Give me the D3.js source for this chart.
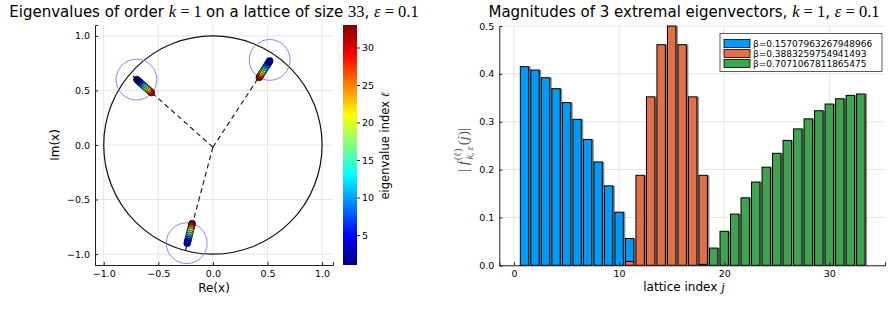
<!DOCTYPE html>
<html><head><meta charset="utf-8">
<script src="https://cdn.jsdelivr.net/npm/d3@7"></script>
<style>
body{margin:0;background:#fff;}
svg text{font-family:"DejaVu Sans",sans-serif;fill:#000;}
.m{font-family:"Liberation Serif","DejaVu Serif",serif;}
</style></head><body>
<svg id="c" width="896" height="325"></svg>
<script>
// ---------- data ----------
const eigRe = [-0.696,-0.683,-0.670,-0.657,-0.644,-0.631,-0.618,-0.604,-0.591,-0.578,-0.564,
                0.520,0.511,0.501,0.492,0.482,0.473,0.463,0.454,0.444,0.435,0.425,
               -0.235,-0.231,-0.226,-0.222,-0.217,-0.213,-0.208,-0.204,-0.199,-0.195,-0.190];
const eigIm = [0.600,0.588,0.576,0.564,0.553,0.541,0.530,0.518,0.506,0.494,0.481,
               0.770,0.755,0.740,0.725,0.710,0.695,0.680,0.665,0.650,0.635,0.620,
              -0.900,-0.882,-0.864,-0.846,-0.828,-0.810,-0.792,-0.774,-0.756,-0.738,-0.720];
const eigIdx = [1,4,7,10,13,16,19,22,25,28,31,
                2,5,8,11,14,17,20,23,26,29,32,
                3,6,9,12,15,18,21,24,27,30,33];
const rayEndRe = [-0.757,0.558,-0.252];
const rayEndIm = [0.655,0.830,-0.968];
const rayStart = [0.0,-0.02];
const clusterCenterRe = [-0.70,0.52,-0.24];
const clusterCenterIm = [0.60,0.78,-0.90];
const clusterRadius = 0.187;

const lattice = d3.range(1,34);
const betas = ["β=0.15707963267948966","β=0.3883259754941493","β=0.7071067811865475"];
const mag1 = [0.415,0.408,0.392,0.369,0.340,0.305,0.263,0.216,0.166,0.111,0.056,
              0,0,0,0,0,0,0,0,0,0,0,0,0,0,0,0,0,0,0,0,0,0];
const mag2 = [0,0,0,0,0,0,0,0,0,0,0.008,0.188,0.352,0.461,0.500,0.461,0.352,0.188,
              0,0,0,0,0,0,0,0,0,0,0,0,0,0,0];
const mag3 = [0,0,0,0,0,0,0,0,0,0,0,0,0,0,0,0,0,0.002,
              0.036,0.071,0.107,0.141,0.174,0.205,0.234,0.261,0.285,0.306,0.323,0.337,0.348,0.355,0.358];
const seriesColors = ["#009AFA","#E36F47","#3EA44E"];

const leftTicks = [-1.0,-0.5,0.0,0.5,1.0];
const cbTicks = [5,10,15,20,25,30];
const rightXTicks = [0,10,20,30];
const rightYTicks = [0,0.1,0.2,0.3,0.4,0.5];

// ---------- drawing ----------
const svg = d3.select("#c");
const fmt1 = d => (d<0?"\u2212":"") + Math.abs(d).toFixed(1);
const gridC = "#e5e5e5", axC = "#222";

const jet = d3.scaleLinear().domain([0,0.125,0.375,0.625,0.875,1])
  .range(["#00007F","#0000FF","#00FFFF","#FFFF00","#FF0000","#7F0000"]).clamp(true);
const cnorm = d3.scaleLinear().domain([1,33]).range([0,1]);

// LEFT PANEL
const xL = d3.scaleLinear().domain([-1.08,1.10]).range([95,333]);
const yL = d3.scaleLinear().domain([-1.1,1.1]).range([265,25]);
const gL = svg.append("g");
leftTicks.forEach(t=>{
  gL.append("line").attr("x1",xL(t)).attr("x2",xL(t)).attr("y1",25).attr("y2",265).attr("stroke",gridC);
  gL.append("line").attr("y1",yL(t)).attr("y2",yL(t)).attr("x1",95).attr("x2",333).attr("stroke",gridC);
});
const axL = d3.axisLeft(yL).tickValues(leftTicks).tickFormat(fmt1).tickSize(-3).tickPadding(5);
const axB = d3.axisBottom(xL).tickValues(leftTicks).tickFormat(fmt1).tickSize(-3).tickPadding(5);
[gL.append("g").attr("transform","translate(95,0)").call(axL),
 gL.append("g").attr("transform","translate(0,265)").call(axB)].forEach(a=>{
  a.select(".domain").attr("stroke",axC).attr("stroke-width",1);
  a.selectAll(".tick line").attr("stroke",axC);
  a.selectAll("text").attr("font-size",9.5).attr("fill","#222").attr("font-family","DejaVu Sans");
});
gL.append("circle").attr("cx",xL(0)).attr("cy",yL(0)).attr("r",xL(1)-xL(0))
  .attr("fill","none").attr("stroke","#111").attr("stroke-width",1.2);
rayEndRe.forEach((r,i)=>{
  gL.append("line").attr("x1",xL(rayStart[0])).attr("y1",yL(rayStart[1]))
    .attr("x2",xL(r)).attr("y2",yL(rayEndIm[i]))
    .attr("stroke","#111").attr("stroke-width",1.1).attr("stroke-dasharray","5,3.5");
});
clusterCenterRe.forEach((c,i)=>{
  gL.append("circle").attr("cx",xL(c)).attr("cy",yL(clusterCenterIm[i]))
    .attr("r",xL(clusterRadius)-xL(0)).attr("fill","none").attr("stroke","#8585ff").attr("stroke-width",1);
});
d3.range(eigRe.length).sort((a,b)=>eigIdx[b]-eigIdx[a]).forEach(i=>{
  gL.append("circle").attr("cx",xL(eigRe[i])).attr("cy",yL(eigIm[i])).attr("r",3.4)
    .attr("fill",jet(cnorm(eigIdx[i]))).attr("stroke","#000").attr("stroke-width",0.7);
});
// colorbar
const yC = d3.scaleLinear().domain([1,33]).range([265,25]);
const defs = svg.append("defs");
const lg = defs.append("linearGradient").attr("id","jetg").attr("x1",0).attr("y1",1).attr("x2",0).attr("y2",0);
d3.range(0,1.0001,0.0625).forEach(s=>lg.append("stop").attr("offset",s).attr("stop-color",jet(s)));
svg.append("rect").attr("x",343).attr("y",25).attr("width",14).attr("height",240).attr("fill","url(#jetg)");
const axC2 = d3.axisRight(yC).tickValues(cbTicks).tickSize(3).tickPadding(2);
const gc = svg.append("g").attr("transform","translate(357,0)").call(axC2);
gc.select(".domain").remove();
gc.selectAll(".tick line").attr("stroke","#222");
gc.selectAll("text").attr("font-size",9.5).attr("fill","#222");
const cbl = svg.append("text").attr("transform","translate(389,146) rotate(-90)").attr("text-anchor","middle").attr("font-size",11.5);
cbl.append("tspan").text("eigenvalue index ");
cbl.append("tspan").attr("class","m").attr("font-style","italic").text("ℓ");
svg.append("text").attr("x",214).attr("y",292).attr("text-anchor","middle").attr("font-size",12).text("Re(x)");
svg.append("text").attr("transform","translate(59,145) rotate(-90)").attr("text-anchor","middle").attr("font-size",12).text("Im(x)");
const tL = svg.append("text").attr("x",214).attr("y",17).attr("text-anchor","middle").attr("font-size",15);
tL.append("tspan").text("Eigenvalues of order ");
tL.append("tspan").attr("class","m").attr("font-style","italic").attr("font-size",16.5).text("k");
tL.append("tspan").attr("class","m").attr("font-size",16.5).text(" = 1 ");
tL.append("tspan").text(" on a lattice of size ");
tL.append("tspan").attr("class","m").attr("font-size",16.5).text("33");
tL.append("tspan").text(", ");
tL.append("tspan").attr("class","m").attr("font-style","italic").attr("font-size",16.5).text("ε");
tL.append("tspan").attr("class","m").attr("font-size",16.5).text(" = 0.1");

// RIGHT PANEL
const xR = d3.scaleLinear().domain([-1.4,35.3]).range([499.3,885]);
const yR = d3.scaleLinear().domain([0,0.5]).range([265.3,26]);
const gR = svg.append("g");
rightXTicks.forEach(t=>gR.append("line").attr("x1",xR(t)).attr("x2",xR(t)).attr("y1",26).attr("y2",265.3).attr("stroke",gridC));
rightYTicks.forEach(t=>gR.append("line").attr("y1",yR(t)).attr("y2",yR(t)).attr("x1",499.3).attr("x2",885).attr("stroke",gridC));
const bw = 0.4;
[mag1,mag2,mag3].forEach((vals,si)=>{
  const gs = gR.append("g");
  lattice.forEach((j,k)=>{
    const v = vals[k]; if(!(v>0)) return;
    const x0 = xR(j-bw), x1 = xR(j+bw), y0 = yR(v), y1 = yR(0);
    gs.append("rect").attr("x",x1).attr("y",y0).attr("width",2).attr("height",y1-y0).attr("fill","#888");
    gs.append("rect").attr("x",x0).attr("y",y0).attr("width",x1-x0).attr("height",y1-y0)
      .attr("fill",seriesColors[si]).attr("stroke","#000").attr("stroke-width",1);
  });
});
const axRL = d3.axisLeft(yR).tickValues(rightYTicks).tickFormat(d3.format(".1f")).tickSize(-3).tickPadding(5);
const axRB = d3.axisBottom(xR).tickValues(rightXTicks).tickSize(-3).tickPadding(5);
[gR.append("g").attr("transform","translate(499.3,0)").call(axRL),
 gR.append("g").attr("transform","translate(0,265.3)").call(axRB)].forEach(a=>{
  a.select(".domain").attr("stroke",axC).attr("stroke-width",1);
  a.selectAll(".tick line").attr("stroke",axC);
  a.selectAll("text").attr("font-size",9.5).attr("fill","#222");
});
const lgG = svg.append("g");
lgG.append("rect").attr("x",720).attr("y",33.5).attr("width",162).attr("height",38).attr("fill","#fff").attr("stroke","#333").attr("stroke-width",0.8);
betas.forEach((b,i)=>{
  const yy = 43.5 + i*10;
  lgG.append("rect").attr("x",724).attr("y",yy-4).attr("width",26).attr("height",8).attr("fill",seriesColors[i]).attr("stroke","#000").attr("stroke-width",0.8);
  lgG.append("text").attr("x",753).attr("y",yy+3.5).attr("font-size",9).attr("fill","#222").text(b);
});
const xl = svg.append("text").attr("x",684).attr("y",291).attr("text-anchor","middle").attr("font-size",12);
xl.append("tspan").text("lattice index ");
xl.append("tspan").attr("class","m").attr("font-style","italic").attr("font-size",13).text("j");
const yl = svg.append("text").attr("transform","translate(468,150) rotate(-90)").attr("text-anchor","middle").attr("class","m").attr("font-size",15);
const c4 = "#555";
yl.append("tspan").attr("fill",c4).text("| ");
yl.append("tspan").attr("fill",c4).attr("font-style","italic").text("f");
yl.append("tspan").attr("fill",c4).attr("font-size",10).attr("dx",1).attr("dy",-7).text("(ℓ)");
yl.append("tspan").attr("fill",c4).attr("font-size",10).attr("font-style","italic").attr("dx",-11).attr("dy",12).text("k, ε");
yl.append("tspan").attr("fill",c4).attr("dx",1).attr("dy",-5).text("(");
yl.append("tspan").attr("fill",c4).attr("font-style","italic").text("j");
yl.append("tspan").attr("fill",c4).text(")|");
const tR = svg.append("text").attr("x",684).attr("y",17).attr("text-anchor","middle").attr("font-size",15);
tR.append("tspan").text("Magnitudes of 3 extremal eigenvectors, ");
tR.append("tspan").attr("class","m").attr("font-style","italic").attr("font-size",16.5).text("k");
tR.append("tspan").attr("class","m").attr("font-size",16.5).text(" = 1");
tR.append("tspan").text(", ");
tR.append("tspan").attr("class","m").attr("font-style","italic").attr("font-size",16.5).text("ε");
tR.append("tspan").attr("class","m").attr("font-size",16.5).text(" = 0.1");
</script></body></html>
